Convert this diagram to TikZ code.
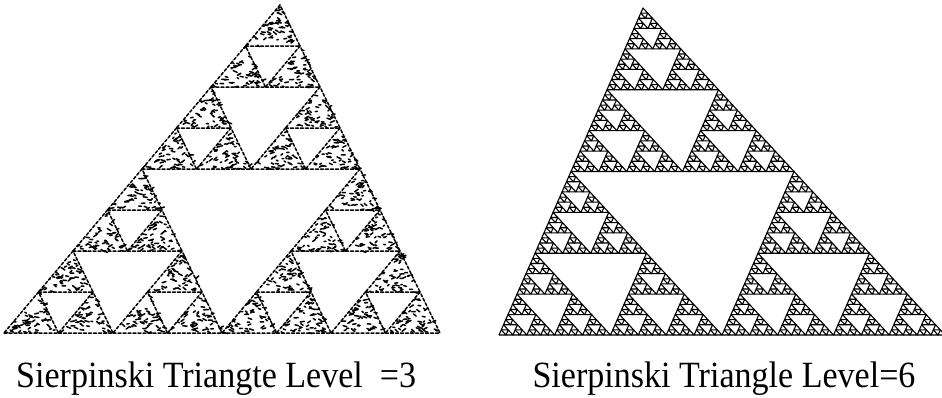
\documentclass[tikz,border=0pt]{standalone}
\usepackage{fontspec}
\setmainfont{Liberation Serif}
\newfontfamily\legfont[FakeStretch=0.92]{Liberation Serif}
\usetikzlibrary{positioning}

% triangle de Sierpinski : niveau, sommets a, b, c, dessin des feuilles
\newcommand\sierp[8]{%
  \ifnum#1=0
    #8{#2}{#3}{#4}{#5}{#6}{#7}%
  \else
    \begingroup
      \pgfmathtruncatemacro\lv{#1-1}%
      \pgfmathsetmacro\abx{(#2+#4)/2}\pgfmathsetmacro\aby{(#3+#5)/2}%
      \pgfmathsetmacro\acx{(#2+#6)/2}\pgfmathsetmacro\acy{(#3+#7)/2}%
      \pgfmathsetmacro\bcx{(#4+#6)/2}\pgfmathsetmacro\bcy{(#5+#7)/2}%
      \edef\suite{%
        \noexpand\sierp{\lv}{#2}{#3}{\abx}{\aby}{\acx}{\acy}{\noexpand#8}%
        \noexpand\sierp{\lv}{\abx}{\aby}{#4}{#5}{\bcx}{\bcy}{\noexpand#8}%
        \noexpand\sierp{\lv}{\acx}{\acy}{\bcx}{\bcy}{#6}{#7}{\noexpand#8}}%
      \suite
    \endgroup
  \fi}

% feuille pleine
\newcommand\feuilletrait[6]{\draw[trait] (#1,#2) -- (#3,#4) -- (#5,#6) -- cycle;}
% feuille grenee (bord en pointilles + taches au hasard)
\newcommand\feuillegrain[6]{%
  \draw[grain] (#1,#2) -- (#3,#4) -- (#5,#6) -- cycle;
  \foreach \k in {1,...,52}{%
    \pgfmathsetmacro\ru{sqrt(rnd)}\pgfmathsetmacro\rv{rnd}%
    \pgfmathsetmacro\px{(1-\ru)*#1+\ru*(1-\rv)*#3+\ru*\rv*#5}%
    \pgfmathsetmacro\py{(1-\ru)*#2+\ru*(1-\rv)*#4+\ru*\rv*#6}%
    \pgfmathsetmacro\ang{-45+rnd*90}%
    \pgfmathsetmacro\lg{1.5+rnd*3}%
    \draw[tache] (\px,\py) -- ++(\ang:\lg);
  }}

\tikzset{
  grain/.style={line width=1.5pt, dash pattern=on 3pt off 2pt, line cap=round},
  tache/.style={line width=1.5pt, line cap=round},
  trait/.style={line width=1.1pt, line join=round},
  legende/.style={font=\legfont\fontsize{37}{40}\selectfont, inner sep=0pt}
}

\begin{document}
\begin{tikzpicture}[x=1pt, y=-1pt]
	\useasboundingbox (0,0) rectangle (942,397);
	\clip (0,0) rectangle (942,397);
	\pgfmathsetseed{1234}
	% niveau 3, trait grene
	\sierp{3}{4}{333}{440}{333}{280}{5}{\feuillegrain}
	% niveau 6
	\sierp{6}{499}{335}{945}{335}{643}{8}{\feuilletrait}
	% legendes
	\node[legende, anchor=base west] (leg3) at (16,387) {Sierpinski Triangte Level \ =3};
	\node[legende, anchor=base] (leg6) at (724,387) {Sierpinski Triangle Level=6};
\end{tikzpicture}
\end{document}
